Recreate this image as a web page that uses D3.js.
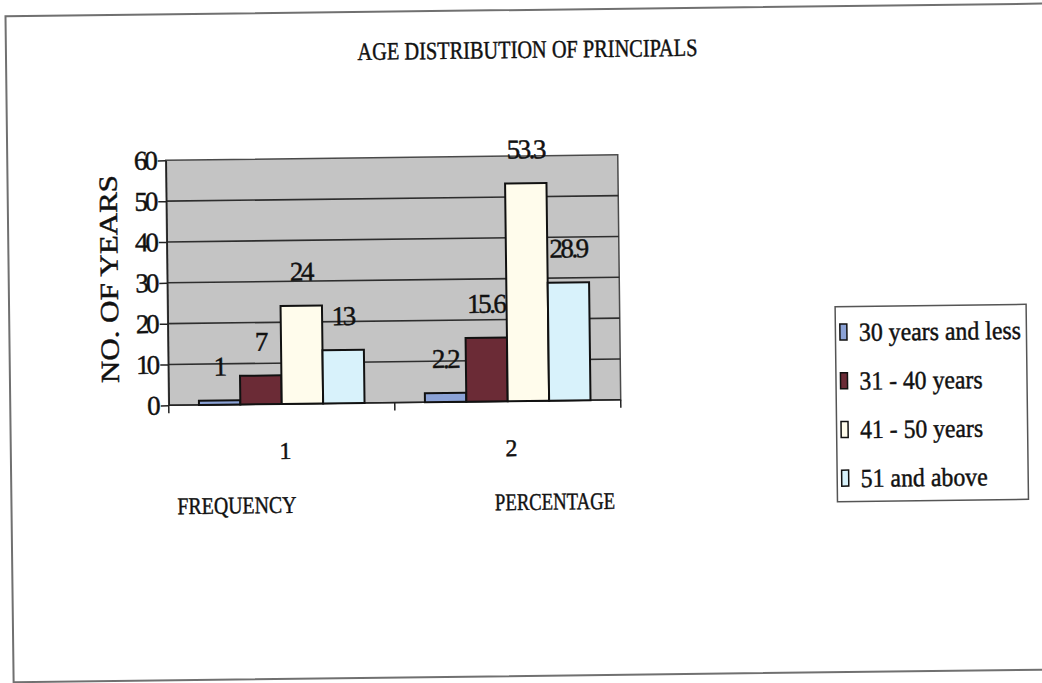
<!DOCTYPE html>
<html>
<head>
<meta charset="utf-8">
<script src="https://cdn.jsdelivr.net/npm/d3@7/dist/d3.min.js"></script>
<style>
  body { margin: 0; background: #fff; }
  text { font-family: "Liberation Serif", "DejaVu Serif", serif; fill: #111; stroke: #111; stroke-width: 0.45px; }
</style>
</head>
<body>
<script>
// data
var categories = ["1", "2"];
var categoryNames = ["FREQUENCY", "PERCENTAGE"];
var seriesNames = ["30 years and less", "31 - 40 years", "41 - 50 years", "51 and above"];
var frequency = [1, 7, 24, 13];
var percentage = [2.2, 15.6, 53.3, 28.9];
var yTicks = [0, 10, 20, 30, 40, 50, 60];

var colors = ["#8ba2d6", "#6b2b36", "#fffcec", "#d8f2fb"];
var values = [frequency, percentage];

var width = 1042, height = 683;
var plot = {left: 168, right: 620, top: 156, bottom: 401};

var svg = d3.select("body").append("svg")
    .attr("width", width)
    .attr("height", height);

svg.append("rect").attr("width", width).attr("height", height).attr("fill", "#fff");

// the scan is slightly tilted
var g = svg.append("g").attr("transform", "rotate(-0.7,521,341)");

// outer frame of the chart area
g.append("rect")
    .attr("x", 9.5).attr("y", 10)
    .attr("width", 1070).attr("height", 666)
    .attr("fill", "none")
    .attr("stroke", "#707070")
    .attr("stroke-width", 2);

var y = d3.scaleLinear().domain([0, 60]).range([plot.bottom, plot.top]);
var x0 = d3.scaleBand().domain(categories).range([plot.left, plot.right]);
var x1 = d3.scaleBand().domain(seriesNames).range([0, x0.bandwidth()]).paddingOuter(0.73);

// plot area
g.append("rect")
    .attr("x", plot.left).attr("y", plot.top)
    .attr("width", plot.right - plot.left).attr("height", plot.bottom - plot.top)
    .attr("fill", "#c4c4c4")
    .attr("stroke", "#4a4a4a")
    .attr("stroke-width", 1.5);

g.selectAll(".grid")
    .data(yTicks.slice(1, -1))
    .enter().append("line")
    .attr("class", "grid")
    .attr("x1", plot.left).attr("x2", plot.right)
    .attr("y1", function(d) { return y(d); })
    .attr("y2", function(d) { return y(d); })
    .attr("stroke", "#2e2e2e")
    .attr("stroke-width", 1.6);

// y axis
var yAxis = g.append("g")
    .attr("transform", "translate(" + plot.left + ",0)")
    .call(d3.axisLeft(y).tickValues(yTicks).tickSize(8).tickSizeOuter(0).tickPadding(3));
yAxis.select(".domain").attr("stroke", "#222").attr("stroke-width", 1.5);
yAxis.selectAll(".tick line").attr("stroke", "#222").attr("stroke-width", 1.5);
yAxis.selectAll(".tick text")
    .style("font-family", "'Liberation Serif', serif")
    .style("font-size", "27px")
    .attr("fill", "#111")
    .attr("letter-spacing", "-3px");

// x axis line and boundary ticks
g.append("line")
    .attr("x1", plot.left).attr("x2", plot.right)
    .attr("y1", plot.bottom).attr("y2", plot.bottom)
    .attr("stroke", "#222").attr("stroke-width", 1.5);

var bounds = [plot.left].concat(categories.map(function(c) { return x0(c) + x0.bandwidth(); }));
g.selectAll(".xtick")
    .data(bounds)
    .enter().append("line")
    .attr("class", "xtick")
    .attr("x1", function(d) { return d; }).attr("x2", function(d) { return d; })
    .attr("y1", plot.bottom).attr("y2", plot.bottom + 8)
    .attr("stroke", "#222").attr("stroke-width", 1.5);

g.selectAll(".xlab")
    .data(categories)
    .enter().append("text")
    .attr("class", "xlab")
    .attr("x", function(d) { return x0(d) + x0.bandwidth() / 2 + 3; })
    .attr("y", 456)
    .attr("text-anchor", "middle")
    .style("font-size", "24px")
    .text(function(d) { return d; });

var nameShift = [-46, 46];
var nameLen = [119, 120];
g.selectAll(".cname")
    .data(categoryNames)
    .enter().append("text")
    .attr("class", "cname")
    .attr("x", function(d, i) { return x0(categories[i]) + x0.bandwidth() / 2 + nameShift[i]; })
    .attr("y", 510)
    .attr("text-anchor", "middle")
    .attr("textLength", function(d, i) { return nameLen[i]; })
    .attr("lengthAdjust", "spacingAndGlyphs")
    .style("font-size", "24px")
    .text(function(d) { return d; });

// bars
var groups = g.selectAll(".grp")
    .data(categories)
    .enter().append("g")
    .attr("class", "grp")
    .attr("transform", function(d) { return "translate(" + x0(d) + ",0)"; });

function rows(c, i) {
  return values[i].map(function(v, j) { return {key: seriesNames[j], v: v, j: j}; });
}

groups.selectAll("rect")
    .data(rows)
    .enter().append("rect")
    .attr("x", function(d) { return x1(d.key); })
    .attr("width", x1.bandwidth())
    .attr("y", function(d) { return y(d.v); })
    .attr("height", function(d) { return y(0) - y(d.v); })
    .attr("fill", function(d) { return colors[d.j]; })
    .attr("stroke", "#111")
    .attr("stroke-width", 2);

groups.selectAll(".val")
    .data(rows)
    .enter().append("text")
    .attr("class", "val")
    .attr("x", function(d) { return x1(d.key) + x1.bandwidth() / 2; })
    .attr("y", function(d) { return y(d.v) - 25; })
    .attr("text-anchor", "middle")
    .style("font-size", "27px")
    .attr("letter-spacing", "-2.5px")
    .text(function(d) { return d.v; });

// title
g.append("text")
    .attr("x", 531).attr("y", 58)
    .attr("text-anchor", "middle")
    .attr("textLength", 340)
    .attr("lengthAdjust", "spacingAndGlyphs")
    .style("font-size", "25px")
    .text("AGE DISTRIBUTION OF PRINCIPALS");

// y title
g.append("text")
    .attr("transform", "translate(118.5,274) rotate(-90)")
    .attr("text-anchor", "middle")
    .attr("textLength", 208)
    .attr("lengthAdjust", "spacingAndGlyphs")
    .style("font-size", "26px")
    .text("NO. OF YEARS");

// legend
var legend = g.append("g");
legend.append("rect")
    .attr("x", 835.5).attr("y", 310.5)
    .attr("width", 191).attr("height", 195)
    .attr("fill", "#fff")
    .attr("stroke", "#555")
    .attr("stroke-width", 1.5);

var itemLen = [162, 123, 123, 127];
var items = legend.selectAll(".item")
    .data(seriesNames)
    .enter().append("g")
    .attr("class", "item")
    .attr("transform", function(d, i) { return "translate(0," + (336 + i * 48.7) + ")"; });

items.append("rect")
    .attr("x", 840).attr("y", -8)
    .attr("width", 7).attr("height", 16)
    .attr("fill", function(d, i) { return colors[i]; })
    .attr("stroke", "#111")
    .attr("stroke-width", 1.5);

items.append("text")
    .attr("x", 859).attr("y", 9)
    .attr("textLength", function(d, i) { return itemLen[i]; })
    .attr("lengthAdjust", "spacingAndGlyphs")
    .style("font-size", "26px")
    .text(function(d) { return d; });
</script>
</body>
</html>
